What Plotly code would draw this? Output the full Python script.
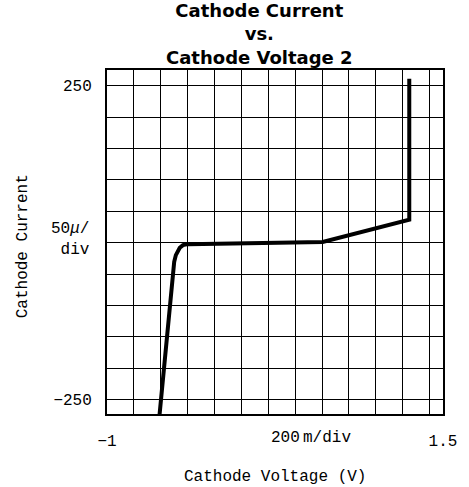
import plotly.graph_objects as go

# Data (cathode voltage in V, cathode current in µA)
voltage = [-0.6116, -0.5145, -0.500, -0.4877, -0.476, -0.4587, -0.4348, -0.3986, 0.605, 1.249, 1.249]
current = [-280, -51.8, -30.6, -19.9, -13.5, -8.3, -4.0, -2.4, 1.0, 36.5, 261]

x_tick_vals = [-1, 1.5]
x_tick_text = ["\u22121", "1.5"]
y_tick_vals = [250, -250]
y_tick_text = ["250", "\u2212250"]

title_text = "Cathode Current<br>vs.<br>Cathode Voltage 2"
x_title = "Cathode Voltage (V)"
y_title = "Cathode Current"
x_div_label = "200\u2009m/div"
y_div_label = "50<i>\u03bc</i>/<br>div"

W, H = 469, 487
L, R, T, B = 107, 452, 70, 414
PW, PH = R - L, B - T


def px_x(p):
    return (p - L) / PW


def px_y(p):
    return (B - p) / PH


mono = dict(family="Liberation Mono", size=16, color="black")
bold = dict(family="DejaVu Sans", size=18, color="black", weight="bold")

fig = go.Figure()
fig.add_trace(go.Scatter(x=voltage, y=current, mode="lines",
                         line=dict(color="black", width=4),
                         hoverinfo="skip", showlegend=False))

fig.update_layout(
    width=W, height=H,
    margin=dict(l=L, r=W - R, t=T, b=H - B, pad=0),
    paper_bgcolor="white", plot_bgcolor="white",
    showlegend=False,
)

fig.update_xaxes(
    range=[-1, 1.5], tickmode="array", tickvals=x_tick_vals, ticktext=x_tick_text,
    showgrid=False, zeroline=False, showline=True, linecolor="black", linewidth=2,
    mirror=True, ticks="", ticklabelstandoff=11, tickfont=mono,
    minor=dict(tickmode="linear", tick0=-1, dtick=0.2, showgrid=True,
               gridcolor="black", gridwidth=1),
)
fig.update_yaxes(
    range=[-273, 275], tickmode="array", tickvals=y_tick_vals, ticktext=y_tick_text,
    showgrid=False, zeroline=False, showline=True, linecolor="black", linewidth=2,
    mirror=True, ticks="", ticklabelstandoff=10, tickfont=mono,
    minor=dict(tickmode="linear", tick0=0, dtick=50, showgrid=True,
               gridcolor="black", gridwidth=1),
)

fig.add_annotation(text=title_text, xref="paper", yref="paper", x=px_x(264), y=px_y(34),
                   xanchor="center", yanchor="middle", align="center",
                   showarrow=False, font=bold, borderpad=0)
fig.add_annotation(text=x_title, xref="paper", yref="paper", x=px_x(280), y=px_y(477),
                   xanchor="center", yanchor="middle", showarrow=False, font=mono)
fig.add_annotation(text=y_title, xref="paper", yref="paper", x=px_x(21), y=px_y(246),
                   xanchor="center", yanchor="middle", textangle=-90,
                   showarrow=False, font=mono)
fig.add_annotation(text=x_div_label, xref="paper", yref="paper", x=px_x(316), y=px_y(438),
                   xanchor="center", yanchor="middle", showarrow=False, font=mono)
fig.add_annotation(text=y_div_label, xref="paper", yref="paper", x=px_x(92), y=px_y(239),
                   xanchor="right", yanchor="middle", align="right",
                   showarrow=False, font=mono)

fig.write_html("out.html")
